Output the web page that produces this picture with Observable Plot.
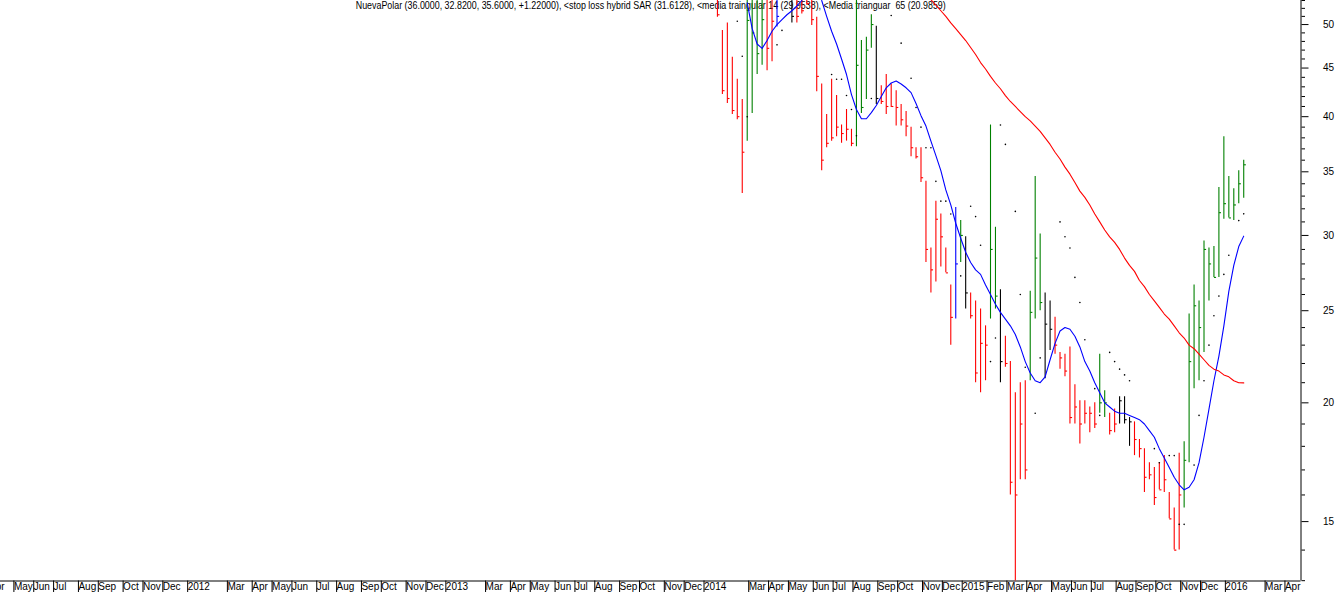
<!DOCTYPE html>
<html><head><meta charset="utf-8">
<script src="https://cdn.jsdelivr.net/npm/d3@7"></script>
<script src="https://cdn.jsdelivr.net/npm/@observablehq/plot@0.6"></script>
<style>
html,body{margin:0;padding:0;background:#fff;}
#chart{width:1336px;height:592px;overflow:hidden;position:relative}
#chart svg{display:block}
</style></head><body><div id="chart"></div>
<script>
const title = "NuevaPolar (36.0000, 32.8200, 35.6000, +1.22000), <stop loss hybrid SAR (31.6128), <media traingular 14 (29.9538), <Media trianguar  65 (20.9859)";

// weekly bars, Fridays from firstWeek to lastWeek
const firstWeek = "2014-01-24", lastWeek = "2016-02-05";
const high = [54.5,49.3,50.2,46.2,43.8,41.7,54.5,54.5,54.5,54.5,
  54.5,54.5,55,null,null,55,55,55,55,54,
  50.9,43.3,40.2,43.8,42.1,39.2,40.7,38.8,54.5,48.1,
  48.5,51.2,49.8,43.1,44.3,43.3,42.6,41.2,40.5,39.0,
  37.1,37.1,34.2,29.1,32.6,31.6,29.1,26.6,32.1,31.1,
  29.9,26.1,25.6,25.1,24.1,39.2,30.6,26.3,23.5,22.1,
  20.5,21.0,21.1,26.2,34.6,30.1,26.1,25.6,24.6,22.6,
  22.5,22.9,20.9,20.1,20.1,19.8,20.0,22.5,20.6,19.5,
  19.7,20.3,20.3,19.3,19.1,18.3,17.9,17.3,17.1,17.3,
  17.6,16.1,15.5,17.7,18.2,24.8,26.6,25.6,29.6,29.1,
  29.2,33.7,38.1,34.6,33.6,35.1,36.0];
const low = [50.9,42.2,41.3,40.2,39.7,33.2,37.7,40.3,44.3,45.3,
  44.7,45.7,49.7,null,null,50.2,50.2,51.3,52.4,49.9,
  42.5,35.1,37.1,37.7,38.1,37.5,37.7,37.2,37.2,40.3,
  41.7,47.2,41.2,41.2,40.2,40.9,39.1,39.1,38.1,36.3,
  36.1,34.1,28.1,26.1,26.8,27.8,27.4,23.0,24.5,28.1,
  25.1,24.5,21.0,20.5,21.1,24.5,25.1,21.0,21.8,16.0,
  12.5,16.6,16.6,21.1,24.5,25.0,21.2,22.7,22.5,21.7,
  21.3,19.0,19.0,18.1,19.0,18.6,18.8,19.5,19.3,18.5,
  18.6,19.0,19.0,18.0,17.6,17.5,16.1,16.6,15.6,16.2,
  16.1,15.1,14.0,14.0,15.5,17.3,20.7,21.1,22.6,25.6,
  27.1,27.1,31.2,31.3,31.1,32.4,32.82];
const close = [51.2,42.6,41.8,40.6,40.0,36.7,50.5,49.0,46.6,50.6,
  47.2,50.4,51.0,null,null,51.0,51.0,51.7,52.6,50.6,
  44.1,36.0,37.5,38.0,39.0,38.4,38.8,37.5,45.3,40.9,
  47.0,50.0,41.8,41.5,41.0,41.0,40.9,39.7,39.1,37.1,
  36.3,34.5,29.0,27.6,31.2,29.9,27.4,24.6,28.0,30.0,
  26.1,24.7,21.5,23.1,23.0,29.0,25.9,22.1,22.0,16.5,
  16.0,19.0,17.0,24.9,28.4,25.5,24.2,23.9,23.0,22.3,
  21.6,19.3,19.8,19.0,19.5,19.5,19.0,20.0,20.0,18.7,
  19.0,20.1,19.2,19.1,18.3,17.9,16.7,16.8,15.9,16.2,
  16.6,15.1,14.0,16.0,17.4,22.1,25.3,24.0,29.0,28.0,
  27.1,31.7,32.4,31.3,32.3,34.0,35.6];
// r = red, g = green, k = black, b = blue, . = none
const barColor = "rrrrrrggggrrb..krrrrrrrrrrrrggggkrrrrrrrrrrrrrrrbgkrrrrggkrrrrrgggkkrrrrrrrrrggrrkkkrrrrrrrrrrggggggggggggg";
const colorOf = {r: "#ff0000", g: "#008000", k: "#000000", b: "#0000ff"};

// stop loss hybrid SAR dots (week index, value)
const sarWeek = [4,5,6,12,13,23,24,25,26,27,28,31,35,37,39,40,41,42,43,44,45,46,47,49,51,52,53,55,56,57,58,60,61,62,64,65,69,70,71,72,73,74,76,77,79,80,81,82,83,88,89,91,92,93,94,96,97,98,99,100,101,102,103,105,106];
const sarValue = [50.4,46.3,40.0,47.6,49.3,44.3,43.8,43.8,42.1,40.7,38.2,41.8,51.1,47.8,43.9,40.9,39.0,37.1,37.1,34.2,32.6,32.6,31.6,27.2,32.2,31.4,29.3,22.1,23.4,39.2,37.4,31.8,26.0,21.8,19.5,22.3,31.0,29.9,29.1,27.1,25.5,23.3,20.7,19.4,22.6,22.1,21.7,21.4,21.1,17.9,17.3,17.6,17.6,14.9,14.9,17.2,19.4,21.1,23.0,24.7,25.9,27.3,28.6,31.1,31.6128];

// media triangular 14 (blue), starting at week index 6
const ma14Start = 6;
const ma14 = [52.7,49.5,47.7,47.2,48.1,49.2,50.0,50.6,51.2,51.7,52.3,53.0,
  null,null,null,
  53.0,51.0,49.2,47.7,46.0,44.3,42.2,40.7,39.8,39.8,
  40.4,41.1,42.0,42.9,43.4,43.6,43.3,42.9,42.4,41.3,
  40.1,39.1,37.7,36.4,35.1,33.5,32.3,30.9,29.8,28.8,
  28.1,27.6,27.3,26.6,26.0,25.4,24.9,24.5,24.1,23.6,
  22.9,22.1,21.5,21.1,21.0,21.3,22.2,23.1,23.8,24.0,
  23.9,23.5,22.9,22.1,21.6,21.0,20.5,20.0,19.8,19.6,
  19.5,19.5,19.4,19.3,19.2,19.0,18.7,18.4,17.9,17.5,
  17.1,16.7,16.4,16.2,16.3,16.6,17.3,18.4,19.7,21.1,
  22.4,24.1,26.2,27.9,29.2,29.95];

// media triangular 65 (red), starting at week index 43
const ma65Start = 43;
const ma65 = [53.1,52.4,51.7,51.0,50.2,49.5,48.8,48.1,47.3,46.5,
  45.6,44.9,44.1,43.4,42.8,42.1,41.5,41.0,40.5,40.0,
  39.6,39.1,38.6,38.0,37.4,36.7,36.1,35.4,34.8,34.1,
  33.4,32.9,32.3,31.6,31.0,30.4,29.9,29.5,29.0,28.4,
  27.9,27.5,26.9,26.5,26.0,25.6,25.2,24.8,24.5,24.1,
  23.7,23.4,23.0,22.8,22.5,22.2,21.9,21.7,21.6,21.4,
  21.3,21.1,21.0,20.99];

// axes
const xStart = "2011-04-19T06:00Z", xEnd = "2016-04-25T18:00Z";
const yMin = 12.99, yMax = 53.0;
const yMajor = [15,20,25,30,35,40,45,50];
const yMinor = [13,14,16,17,18,19,21,22,23,24,26,27,28,29,31,32,33,34,36,37,38,39,41,42,43,44,46,47,48,49,51,52,53];
const xTickDates = ["2011-04-01","2011-05-06","2011-06-03","2011-07-01","2011-08-05","2011-09-02","2011-10-07","2011-11-04","2011-12-02",
  "2012-01-06","2012-03-02","2012-04-06","2012-05-04","2012-06-01","2012-07-06","2012-08-03","2012-09-07","2012-10-05","2012-11-09","2012-12-07",
  "2013-01-04","2013-03-01","2013-04-05","2013-05-03","2013-06-07","2013-07-05","2013-08-02","2013-09-06","2013-10-04","2013-11-08","2013-12-06",
  "2014-01-03","2014-03-07","2014-04-04","2014-05-02","2014-06-06","2014-07-04","2014-08-01","2014-09-05","2014-10-03","2014-11-07","2014-12-05",
  "2015-01-02","2015-02-06","2015-03-06","2015-04-03","2015-05-08","2015-06-05","2015-07-03","2015-08-07","2015-09-04","2015-10-02","2015-11-06","2015-12-04",
  "2016-01-08","2016-03-04","2016-04-01"];
const xTickLabels = ["Apr","May","Jun","Jul","Aug","Sep","Oct","Nov","Dec",
  "2012","Mar","Apr","May","Jun","Jul","Aug","Sep","Oct","Nov","Dec",
  "2013","Mar","Apr","May","Jun","Jul","Aug","Sep","Oct","Nov","Dec",
  "2014","Mar","Apr","May","Jun","Jul","Aug","Sep","Oct","Nov","Dec",
  "2015","Feb","Mar","Apr","May","Jun","Jul","Aug","Sep","Oct","Nov","Dec",
  "2016","Mar","Apr"];

// build tables
const weeks = d3.utcFriday.range(new Date(firstWeek), d3.utcDay.offset(new Date(lastWeek), 1));
const bars = weeks.map((date, i) => ({date, high: high[i], low: low[i], close: close[i], color: colorOf[barColor[i]]}))
  .filter(d => d.high != null);
const sar = sarWeek.map((w, i) => ({date: weeks[w], value: sarValue[i]}));
const ma14Rows = ma14.map((v, i) => ({date: weeks[ma14Start + i], value: v}));
const ma65Rows = ma65.map((v, i) => ({date: weeks[ma65Start + i], value: v}));
const tickDates = xTickDates.map(d => new Date(d));
const labelOf = new Map(tickDates.map((d, i) => [+d, xTickLabels[i]]));

const svg = Plot.plot({
  width: 1336, height: 592,
  marginTop: 0, marginLeft: 0, marginRight: 35.5, marginBottom: 11.5,
  x: {type: "utc", domain: [new Date(xStart), new Date(xEnd)], axis: null},
  y: {type: "log", domain: [yMin, yMax], axis: null},
  style: {fontFamily: "'Liberation Sans', Arial, sans-serif", fontSize: "10px", color: "#000", background: "#fff", overflow: "visible"},
  marks: [
    Plot.text([title], {text: d => d, frameAnchor: "top", lineAnchor: "top", dy: 1, fontSize: 11, fill: "#000"}),
    Plot.ruleY([yMin], {stroke: "#000", strokeWidth: 1}),
    Plot.ruleX([new Date(xEnd)], {stroke: "#000", strokeWidth: 1}),
    Plot.axisY(yMajor, {anchor: "right", tickSize: 7, tickPadding: 15, tickFormat: d => String(d), fontSize: 10, stroke: "#000", fill: "#000"}),
    Plot.axisY(yMinor, {anchor: "right", tickSize: 3.5, tickFormat: () => "", stroke: "#000"}),
    Plot.axisX(tickDates, {anchor: "bottom", tickSize: 11.5, tickPadding: -10, tickFormat: d => labelOf.get(+d), textAnchor: "start", dx: 1.5, fontSize: 10, stroke: "#000", fill: "#000"}),
    Plot.ruleX(bars, {x: "date", y1: "low", y2: "high", stroke: "color", strokeWidth: 1.1, clip: true}),
    Plot.link(bars, {x1: "date", x2: d => d3.utcDay.offset(d.date, 3), y1: "close", y2: "close", stroke: "color", strokeWidth: 1.1, clip: true}),
    Plot.line(ma14Rows, {x: "date", y: "value", stroke: "#0000ff", strokeWidth: 1.1, clip: true}),
    Plot.line(ma65Rows, {x: "date", y: "value", stroke: "#ff0000", strokeWidth: 1.1, clip: true}),
    Plot.dot(sar, {x: "date", y: "value", r: 0.8, fill: "#000", clip: true})
  ]
});
document.getElementById("chart").appendChild(svg);
// squeeze the header text to the reference width
const t = Array.from(svg.querySelectorAll("text")).find(n => n.textContent === title);
if (t) { t.setAttribute("textLength", 590); t.setAttribute("lengthAdjust", "spacingAndGlyphs"); }
</script>
</body></html>
